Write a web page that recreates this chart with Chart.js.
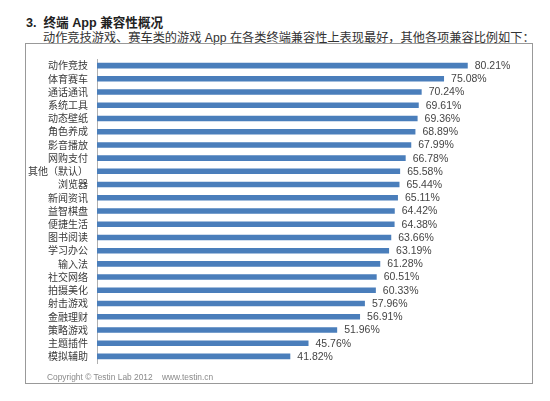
<!DOCTYPE html>
<html>
<head>
<meta charset="utf-8">
<script src="https://cdn.jsdelivr.net/npm/chart.js@4.4.1/dist/chart.umd.min.js"></script>
<style>
  html, body { margin: 0; padding: 0; background: #fff; }
  body { width: 550px; height: 401px; position: relative; overflow: hidden;
         font-family: "Liberation Sans", "Noto Sans CJK SC", sans-serif; }
  #title { position: absolute; left: 26px; top: 12px; font-size: 12.6px; font-weight: bold; color: #222; white-space: nowrap; }
  #subtitle { position: absolute; left: 43px; top: 28px; font-size: 12.2px; color: #333; white-space: nowrap; }
  #box { position: absolute; left: 25px; top: 43px; width: 506px; height: 339px; border: 1px solid #999; }
  #chartWrap { position: absolute; left: 0; top: 0; width: 505px; height: 338px; }
  #copy { position: absolute; left: 21px; top: 328px; font-size: 8.4px; color: #8a8a8a; white-space: nowrap; }
</style>
</head>
<body>
<div id="title">3.&nbsp; 终端 App 兼容性概况</div>
<div id="subtitle">动作竞技游戏、赛车类的游戏 App 在各类终端兼容性上表现最好，其他各项兼容比例如下：</div>
<div id="box">
  <div id="chartWrap"><canvas id="chart"></canvas></div>
  <div id="copy">Copyright © Testin Lab 2012&nbsp;&nbsp;&nbsp; www.testin.cn</div>
</div>
<script>
const categories = [
  "动作竞技", "体育赛车", "通话通讯", "系统工具", "动态壁纸", "角色养成",
  "影音播放", "网购支付", "其他（默认）", "浏览器", "新闻资讯", "益智棋盘",
  "便捷生活", "图书阅读", "学习办公", "输入法", "社交网络", "拍摄美化",
  "射击游戏", "金融理财", "策略游戏", "主题插件", "模拟辅助"
];
const values = [
  80.21, 75.08, 70.24, 69.61, 69.36, 68.89,
  67.99, 66.78, 65.58, 65.44, 65.11, 64.42,
  64.38, 63.66, 63.19, 61.28, 60.51, 60.33,
  57.96, 56.91, 51.96, 45.76, 41.82
];

const BAR_COLOR = "#4a7ebb";

// writes "xx.xx%" just past the end of each bar
const valueLabels = {
  id: "valueLabels",
  afterDatasetsDraw(chart) {
    const ctx = chart.ctx;
    const meta = chart.getDatasetMeta(0);
    ctx.save();
    ctx.font = "10.5px 'Liberation Sans', sans-serif";
    ctx.fillStyle = "#454545";
    ctx.textAlign = "left";
    ctx.textBaseline = "middle";
    meta.data.forEach((bar, i) => {
      ctx.fillText(values[i].toFixed(2) + "%", bar.x + 7, bar.y + 0.5);
    });
    ctx.restore();
  }
};

new Chart(document.getElementById("chart"), {
  type: "bar",
  data: {
    labels: categories,
    datasets: [{
      data: values,
      backgroundColor: BAR_COLOR,
      borderWidth: 0,
      categoryPercentage: 1,
      barPercentage: 0.42,
    }]
  },
  options: {
    indexAxis: "y",
    responsive: true,
    maintainAspectRatio: false,
    animation: false,
    layout: { padding: { left: 0, right: 18, top: 13, bottom: 19 } },
    plugins: { legend: { display: false }, tooltip: { enabled: false } },
    scales: {
      x: { display: false, min: 0, max: 90 },
      y: {
        grid: { display: false, drawTicks: false },
        border: { display: true, color: "#b0b0b0", width: 1 },
        ticks: {
          color: "#3a3a3a",
          padding: 9,
          autoSkip: false,
          font: { family: "'Noto Sans CJK SC', sans-serif", size: 10 }
        },
        afterFit(scale) { scale.width = 71; }
      }
    }
  },
  plugins: [valueLabels]
});
</script>
</body>
</html>
